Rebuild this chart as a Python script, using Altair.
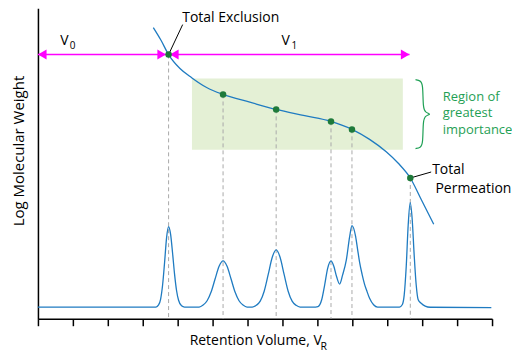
import altair as alt
import pandas as pd

FONT = "Open Sans"
BLUE = "#1f7bc1"
DKGREEN = "#1e7a3a"
MAGENTA = "#ff00ff"
TXTGREEN = "#1fa055"

# Chromatogram (retention volume, detector signal)
chrom_x = [0, 3.38, 3.454, 3.511, 3.568, 3.626, 3.683, 3.74, 3.797, 3.854, 3.911, 3.968, 4.026, 4.111, 4.197,
           4.614, 4.729, 4.843, 4.957, 5.071, 5.186, 5.30, 5.414, 5.529, 5.643, 5.757, 5.871, 5.986,
           6.134, 6.249, 6.363, 6.477, 6.591, 6.706, 6.82, 6.934, 7.049, 7.163, 7.277, 7.391, 7.506,
           7.95, 8.017, 8.123, 8.209, 8.294, 8.39, 8.466, 8.551, 8.637, 8.723, 8.829, 8.923, 8.99,
           9.094, 9.151, 9.209, 9.28, 9.351, 9.409, 9.494, 9.609, 9.723,
           10.35, 10.429, 10.486, 10.543, 10.6, 10.657, 10.714, 10.771, 10.829, 10.886, 10.971, 11.086, 11.229, 12.98]
chrom_y = [3.76, 3.76, 4.44, 6.27, 10.77, 18.20, 26.14, 29.68, 27.23, 21.19, 14.37, 9.10, 5.95, 4.18, 3.76,
           3.76, 4.41, 5.79, 8.59, 12.80, 16.88, 18.65, 16.88, 12.80, 8.59, 5.79, 4.41, 3.76,
           3.76, 4.31, 5.66, 8.87, 14.18, 19.74, 22.19, 19.74, 14.18, 8.87, 5.66, 4.31, 3.76,
           3.76, 3.9, 6.11, 10.93, 16.24, 18.65, 17.04, 13.50, 11.16, 14.15, 18.97, 26.37, 30.0,
           26.53, 22.35, 18.17, 14.31, 11.09, 9.16, 6.59, 4.50, 3.76,
           3.76, 4.5, 7.68, 16.75, 30.26, 37.40, 32.05, 20.48, 10.86, 6.11, 4.98, 4.08, 3.7, 3.6]

# Calibration curve (retention volume, log MW)
cal_x = [3.303, 3.523, 3.74, 4.066, 4.409, 4.829, 5.30, 6.066, 6.82, 7.637, 8.39, 8.99, 9.494, 9.971, 10.323, 10.66, 10.98, 11.331]
cal_y = [93.79, 89.71, 85.11, 80.61, 77.59, 74.50, 72.25, 69.77, 67.43, 65.43, 63.57, 61.0, 57.78, 53.79, 50.0, 45.34, 38.26, 30.45]

# Marked calibration points
pt_x = [3.74, 5.30, 6.82, 8.39, 8.99, 10.66]
pt_y = [85.11, 72.25, 67.43, 63.57, 61.0, 45.34]

# Region of greatest importance
region = pd.DataFrame({"x": [4.409], "x2": [10.446], "y": [77.40], "y2": [54.44]})

chrom = pd.DataFrame({"x": chrom_x, "y": chrom_y})
cal = pd.DataFrame({"x": cal_x, "y": cal_y})
pts = pd.DataFrame({"x": pt_x, "y": pt_y})

xs = alt.Scale(domain=[0, 13], nice=False, zero=False)
ys = alt.Scale(domain=[0, 100], nice=False, zero=False)

X = alt.X("x:Q", scale=xs, axis=alt.Axis(values=list(range(14)), labels=False, grid=False, title=None,
                                          domainColor="black", domainWidth=1.5, tickColor="black",
                                          tickWidth=1.5, tickSize=7))
Y = alt.Y("y:Q", scale=ys, axis=alt.Axis(labels=False, ticks=False, grid=False, title=None,
                                          domainColor="black", domainWidth=1.5))

rect = alt.Chart(region).mark_rect(color="#e4f0d5").encode(x=X, x2="x2", y=Y, y2="y2")

dashes = alt.Chart(pts).mark_rule(color="#aaaaaa", strokeDash=[4, 3], strokeWidth=1).encode(
    x=X, y=Y, y2=alt.datum(0))

chrom_line = alt.Chart(chrom).mark_line(color=BLUE, strokeWidth=1.3, interpolate="monotone").encode(x=X, y=Y)

cal_line = alt.Chart(cal).mark_line(color=BLUE, strokeWidth=1.3, interpolate="monotone").encode(x=X, y=Y)

# arrows
arrow_line = pd.DataFrame({"x": [0], "x2": [10.637], "y": [85.11]})
arrows = alt.Chart(arrow_line).mark_rule(color=MAGENTA, strokeWidth=1.5).encode(x=X, x2="x2", y=Y)
heads_l = alt.Chart(pd.DataFrame({"x": [0, 3.78], "y": [85.11, 85.11]})).mark_point(
    shape="triangle-left", filled=True, size=100, color=MAGENTA, opacity=1, xOffset=4.33).encode(x=X, y=Y)
heads_r = alt.Chart(pd.DataFrame({"x": [3.666, 10.637], "y": [85.11, 85.11]})).mark_point(
    shape="triangle-right", filled=True, size=100, color=MAGENTA, opacity=1, xOffset=-4.33).encode(x=X, y=Y)

points = alt.Chart(pts).mark_circle(color=DKGREEN, size=42, opacity=1).encode(x=X, y=Y)

# leader lines
leaders = pd.DataFrame({"x": [3.74, 10.66], "x2": [4.143, 11.257], "y": [85.11, 45.34], "y2": [94.76, 47.27]})
leader = alt.Chart(leaders).mark_rule(color="black", strokeWidth=1).encode(x=X, x2="x2", y=Y, y2="y2")

# brace
brace_x = [10.809, 10.951, 11.023, 11.023, 11.094, 11.266, 11.094, 11.023, 11.023, 10.951, 10.809]
brace_y = [77.01, 76.69, 75.56, 67.85, 66.40, 65.92, 65.43, 63.99, 56.27, 55.14, 54.82]
brace = alt.Chart(pd.DataFrame({"x": brace_x, "y": brace_y, "o": list(range(len(brace_x)))})).mark_line(
    color=TXTGREEN, strokeWidth=1.2, interpolate="basis").encode(x=X, y=Y, order="o:Q")


def label(txt, x, y, size=14, color="black", align="left", baseline="middle", lh=None):
    kw = dict(text=txt, font=FONT, fontSize=size, color=color, align=align, baseline=baseline)
    if lh:
        kw["lineHeight"] = lh
        kw["lineBreak"] = "\n"
    return alt.Chart(pd.DataFrame({"x": [x], "y": [y]})).mark_text(**kw).encode(x=X, y=Y)


texts = [
    label("Total Exclusion", 4.131, 95.6, baseline="alphabetic"),
    label("Total", 11.286, 47.91),
    label("Permeation", 11.38, 41.8),
    label("Region of\ngreatest\nimportance", 11.589, 71.48, size=13, color=TXTGREEN, baseline="middle", lh=16.5),
    label("V", 0.637, 88.1, baseline="alphabetic"),
    label("0", 0.909, 86.8, size=10, baseline="alphabetic"),
    label("V", 6.971, 88.1, baseline="alphabetic"),
    label("1", 7.257, 86.8, size=10, baseline="alphabetic"),
]

xtitle = alt.Chart(pd.DataFrame({"a": [0]})).mark_text(
    text="Retention Volume, V", font=FONT, fontSize=14, align="left", baseline="alphabetic", color="black").encode(
    x=alt.value(152), y=alt.value(337))
xsub = alt.Chart(pd.DataFrame({"a": [0]})).mark_text(
    text="R", font=FONT, fontSize=10.5, align="left", baseline="alphabetic", color="black").encode(
    x=alt.value(283), y=alt.value(342))
ytitle = alt.Chart(pd.DataFrame({"a": [0]})).mark_text(
    text="Log Molecular Weight", font=FONT, fontSize=15, align="center", baseline="middle", angle=270,
    color="black").encode(x=alt.value(-18.5), y=alt.value(143))

chart = alt.layer(
    rect, dashes, chrom_line, cal_line, arrows, heads_l, heads_r, leader, points, brace,
    *texts, xtitle, xsub, ytitle
).properties(
    width=455, height=311,
    autosize=alt.AutoSizeParams(type="none"),
    padding={"left": 30, "top": 0, "right": 20, "bottom": 36},
).configure_view(stroke=None)

chart.save("out.html", embed_options={"renderer": "svg", "actions": False})
